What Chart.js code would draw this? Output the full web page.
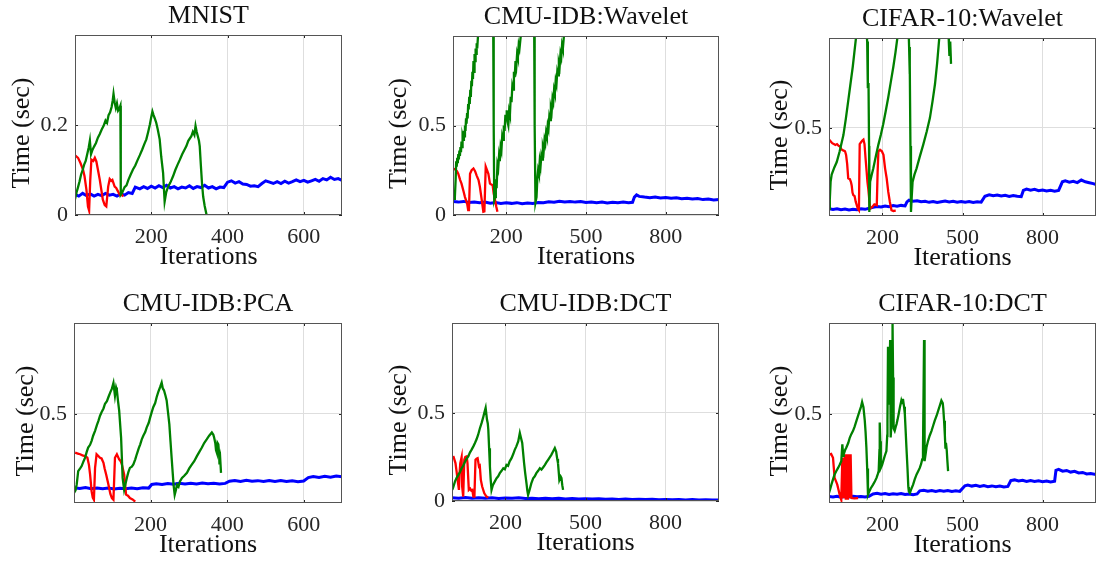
<!DOCTYPE html>
<html>
<head>
<meta charset="utf-8">
<script src="https://cdn.jsdelivr.net/npm/chart.js@4.4.1/dist/chart.umd.min.js"></script>
<style>
  html, body { margin: 0; padding: 0; background: #fff; }
  #wrap { position: relative; width: 1096px; height: 563px; overflow: hidden; }
  #wrap canvas { position: absolute; left: 0; top: 0; }
</style>
</head>
<body>
<div id="wrap"></div>
<script>
// iteration ticks
const ticks700 = [200, 400, 600];
const ticks1000 = [200, 500, 800];

// MNIST
const mnistRed = [[1,0.132],[8,0.127],[14,0.116],[21,0.101],[25,0.086],[30,0.056],[34,0.019],[37,0.010],[40,0.078],[43,0.123],[48,0.120],[52,0.127],[56,0.119],[60,0.101],[65,0.078],[69,0.056],[73,0.034],[78,0.022],[82,0.019],[87,0.063],[91,0.080],[95,0.076],[98,0.078],[104,0.063],[108,0.060],[113,0.052],[117,0.045],[121,0.048],[126,0.041]];
const mnistGreen = [[0,0.035],[4,0.05],[8,0.062],[12,0.075],[16,0.09],[20,0.10],[24,0.112],[28,0.12],[32,0.135],[36,0.15],[39,0.165],[42,0.135],[46,0.145],[50,0.152],[55,0.16],[60,0.172],[65,0.18],[70,0.19],[75,0.198],[80,0.21],[84,0.205],[88,0.222],[92,0.228],[96,0.24],[99,0.255],[101,0.269],[104,0.25],[107,0.238],[110,0.248],[113,0.232],[116,0.236],[119,0.243],[120,0.045],[124,0.05],[130,0.062],[135,0.066],[140,0.078],[146,0.09],[152,0.101],[158,0.11],[164,0.122],[170,0.133],[176,0.145],[182,0.158],[187,0.168],[192,0.185],[196,0.2],[200,0.218],[203,0.23],[206,0.222],[209,0.215],[213,0.205],[217,0.19],[222,0.168],[226,0.13],[231,0.093],[235,0.03],[239,0.05],[244,0.063],[250,0.072],[257,0.086],[263,0.1],[269,0.112],[275,0.123],[281,0.135],[287,0.145],[292,0.153],[297,0.165],[301,0.17],[305,0.175],[309,0.185],[313,0.178],[316,0.198],[319,0.185],[322,0.175],[325,0.165],[327,0.153],[330,0.11],[333,0.07],[336,0.041],[340,0.02],[345,0.0]];
const mnistBlue = [[0,0.046],[10,0.042],[20,0.048],[30,0.043],[40,0.047],[50,0.042],[60,0.046],[70,0.043],[80,0.048],[90,0.044],[100,0.046],[110,0.042],[120,0.047],[130,0.044],[140,0.05],[150,0.048],[158,0.062],[170,0.058],[180,0.063],[190,0.059],[200,0.064],[210,0.06],[220,0.065],[230,0.061],[240,0.066],[250,0.06],[260,0.063],[270,0.058],[280,0.062],[290,0.06],[300,0.065],[310,0.059],[320,0.063],[330,0.061],[340,0.066],[350,0.06],[360,0.063],[370,0.058],[380,0.062],[390,0.061],[400,0.073],[410,0.076],[420,0.071],[430,0.074],[440,0.069],[450,0.068],[460,0.064],[470,0.065],[480,0.063],[490,0.07],[500,0.076],[510,0.073],[520,0.07],[530,0.074],[540,0.07],[550,0.075],[560,0.071],[570,0.074],[580,0.078],[590,0.074],[600,0.077],[610,0.073],[620,0.076],[630,0.079],[640,0.075],[650,0.081],[660,0.078],[670,0.084],[680,0.079],[690,0.081],[700,0.077]];

// CMU-IDB, wavelet features
const cmuWavRed = [[1,0.26],[8,0.255],[15,0.245],[20,0.23],[27,0.195],[32,0.175],[40,0.13],[45,0.10],[53,0.065],[57,0.028],[60,0.03],[64,0.23],[70,0.25],[77,0.26],[83,0.245],[89,0.22],[96,0.195],[101,0.158],[108,0.084],[114,0.018],[118,0.02],[123,0.27],[128,0.25],[133,0.23],[139,0.175],[144,0.17],[149,0.167],[153,0.12],[158,0.084],[163,0.045],[167,0.018]];
const cmuWavGreen = [[1,0.12],[4,0.09],[7,0.10],[10,0.2],[12,0.3],[14,0.27],[16,0.32],[18,0.29],[20,0.34],[22,0.31],[24,0.36],[26,0.33],[28,0.38],[30,0.35],[32,0.41],[34,0.38],[36,0.44],[39,0.42],[41,0.47],[43,0.44],[45,0.5],[47,0.47],[49,0.54],[51,0.51],[53,0.57],[55,0.54],[57,0.62],[59,0.59],[61,0.66],[63,0.62],[65,0.7],[67,0.66],[69,0.75],[71,0.72],[73,0.8],[75,0.76],[77,0.86],[79,0.8],[81,0.9],[83,0.86],[85,0.93],[87,0.9],[89,0.96],[91,0.93],[94,1.0],[98,1.03],[110,1.3],[140,1.4],[151,1.1],[153,0.5],[155,0.084],[158,0.1],[161,0.2],[164,0.15],[167,0.28],[170,0.26],[173,0.33],[176,0.3],[179,0.38],[182,0.36],[185,0.44],[188,0.42],[191,0.5],[194,0.47],[197,0.56],[200,0.53],[202,0.585],[205,0.52],[208,0.5],[211,0.58],[214,0.56],[217,0.66],[220,0.63],[223,0.72],[226,0.7],[229,0.8],[232,0.77],[235,0.86],[238,0.83],[241,0.9],[244,0.88],[247,0.95],[250,0.93],[254,0.99],[258,1.03],[270,1.3],[300,1.4],[305,1.1],[307,0.5],[310,0.07],[314,0.1],[317,0.2],[320,0.25],[323,0.23],[326,0.3],[329,0.27],[332,0.33],[335,0.31],[338,0.38],[341,0.36],[344,0.42],[347,0.4],[350,0.46],[353,0.44],[356,0.5],[359,0.48],[362,0.55],[365,0.53],[368,0.6],[371,0.58],[374,0.65],[377,0.63],[380,0.7],[383,0.68],[386,0.75],[389,0.73],[392,0.8],[395,0.78],[398,0.85],[401,0.83],[404,0.9],[407,0.88],[410,0.95],[413,0.93],[417,1.0],[421,1.05]];
const cmuWavBlue = [[0,0.075],[20,0.072],[40,0.076],[60,0.07],[80,0.073],[100,0.069],[120,0.072],[140,0.066],[160,0.07],[180,0.064],[200,0.068],[220,0.065],[240,0.069],[260,0.063],[280,0.067],[300,0.064],[320,0.07],[340,0.068],[360,0.074],[380,0.071],[400,0.077],[420,0.073],[440,0.076],[460,0.072],[480,0.075],[500,0.07],[520,0.073],[540,0.069],[560,0.072],[580,0.067],[600,0.071],[620,0.068],[640,0.072],[660,0.069],[675,0.071],[682,0.1],[690,0.112],[700,0.104],[720,0.1],[740,0.097],[760,0.101],[780,0.095],[800,0.098],[820,0.094],[840,0.096],[860,0.091],[880,0.094],[900,0.089],[920,0.092],[940,0.086],[960,0.089],[980,0.084],[1000,0.087]];

// CIFAR-10, wavelet features
const cifWavRed = [[1,0.435],[6,0.425],[12,0.415],[18,0.41],[24,0.405],[30,0.41],[36,0.4],[41,0.397],[47,0.38],[53,0.375],[60,0.37],[64,0.35],[68,0.3],[72,0.22],[78,0.215],[82,0.2],[85,0.18],[88,0.14],[91,0.126],[96,0.12],[100,0.09],[104,0.07],[108,0.05],[112,0.042],[115,0.41],[120,0.42],[125,0.43],[129,0.435],[133,0.41],[137,0.33],[141,0.257],[144,0.2],[147,0.163],[151,0.1],[154,0.05],[162,0.06],[170,0.075],[179,0.07],[182,0.25],[185,0.37],[191,0.378],[198,0.37],[204,0.35],[210,0.275],[216,0.22],[222,0.144],[228,0.088],[234,0.042],[241,0.038],[250,0.04]];
const cifWavGreen = [[0,0.05],[3,0.1],[6,0.2],[10,0.24],[20,0.28],[29,0.31],[40,0.37],[54,0.46],[63,0.55],[72,0.65],[80,0.74],[89,0.84],[95,0.92],[101,1.0],[105,1.05],[140,1.05],[143,0.98],[145,0.8],[146,0.72],[148,0.75],[150,0.4],[151,0.032],[154,0.2],[160,0.24],[166,0.275],[175,0.34],[185,0.407],[194,0.46],[203,0.52],[212,0.59],[222,0.67],[232,0.76],[241,0.84],[249,0.92],[256,1.0],[260,1.05],[298,1.05],[300,0.95],[302,0.8],[303,0.85],[305,0.4],[307,0.032],[310,0.12],[313,0.2],[320,0.24],[328,0.275],[340,0.34],[353,0.407],[366,0.48],[378,0.556],[388,0.65],[397,0.744],[405,0.86],[413,1.0],[416,1.05],[447,1.05],[449,0.97],[451,0.9],[454,0.98],[457,0.856]];
const cifWavBlue = [[0,0.05],[15,0.046],[30,0.05],[45,0.045],[60,0.049],[75,0.044],[90,0.048],[105,0.045],[120,0.05],[135,0.047],[150,0.053],[165,0.058],[180,0.063],[195,0.06],[210,0.066],[225,0.062],[240,0.068],[255,0.064],[270,0.069],[285,0.066],[292,0.088],[300,0.098],[315,0.092],[330,0.095],[345,0.089],[360,0.092],[375,0.086],[390,0.09],[405,0.085],[420,0.089],[435,0.093],[450,0.088],[465,0.092],[480,0.087],[495,0.091],[510,0.086],[525,0.09],[540,0.085],[555,0.089],[570,0.087],[584,0.12],[600,0.128],[615,0.123],[630,0.127],[645,0.121],[660,0.125],[675,0.119],[690,0.124],[705,0.12],[720,0.118],[728,0.152],[740,0.16],[755,0.154],[770,0.158],[785,0.151],[800,0.155],[815,0.149],[830,0.153],[845,0.148],[860,0.152],[874,0.2],[885,0.205],[900,0.198],[915,0.203],[930,0.196],[945,0.21],[960,0.2],[975,0.195],[990,0.19],[1000,0.185]];

// CMU-IDB, PCA features
const cmuPcaRed = [[3,0.287],[10,0.282],[16,0.278],[22,0.272],[29,0.268],[35,0.259],[39,0.22],[42,0.167],[46,0.074],[49,0.04],[52,0.028],[55,0.203],[59,0.278],[63,0.27],[68,0.259],[72,0.255],[77,0.231],[80,0.2],[84,0.167],[90,0.111],[95,0.06],[99,0.037],[103,0.028],[107,0.259],[112,0.278],[118,0.25],[122,0.24],[125,0.222],[131,0.167],[134,0.1],[136,0.056],[141,0.05],[146,0.037],[153,0.03],[160,0.018]];
const cmuPcaGreen = [[0,0.065],[4,0.08],[7,0.111],[11,0.185],[16,0.2],[20,0.213],[25,0.24],[29,0.259],[33,0.29],[37,0.315],[42,0.33],[46,0.352],[50,0.38],[55,0.407],[60,0.44],[64,0.463],[68,0.49],[72,0.509],[77,0.53],[81,0.556],[86,0.57],[90,0.593],[95,0.62],[99,0.639],[103,0.67],[107,0.6],[110,0.645],[112,0.63],[115,0.57],[118,0.518],[123,0.37],[127,0.148],[131,0.083],[135,0.12],[138,0.148],[142,0.18],[146,0.203],[151,0.21],[155,0.222],[160,0.25],[164,0.278],[169,0.31],[173,0.333],[177,0.36],[181,0.38],[186,0.4],[190,0.426],[195,0.45],[199,0.481],[203,0.51],[207,0.537],[212,0.56],[216,0.593],[220,0.62],[225,0.648],[229,0.672],[232,0.64],[235,0.63],[239,0.6],[242,0.574],[246,0.5],[249,0.444],[252,0.35],[255,0.259],[258,0.17],[260,0.111],[263,0.055],[266,0.08],[269,0.111],[273,0.1],[277,0.13],[282,0.148],[288,0.16],[295,0.176],[301,0.2],[308,0.222],[314,0.24],[321,0.268],[327,0.29],[334,0.315],[340,0.34],[347,0.361],[353,0.38],[360,0.398],[364,0.385],[366,0.37],[369,0.34],[371,0.3],[373,0.287],[375,0.34],[377,0.333],[379,0.28],[380,0.222],[382,0.25],[384,0.176]];
const cmuPcaBlue = [[0,0.094],[15,0.09],[30,0.095],[45,0.089],[60,0.093],[75,0.088],[90,0.092],[105,0.087],[120,0.091],[135,0.088],[150,0.093],[165,0.089],[180,0.094],[195,0.092],[203,0.112],[215,0.116],[230,0.112],[245,0.117],[260,0.113],[275,0.118],[290,0.114],[305,0.119],[320,0.115],[335,0.12],[350,0.116],[365,0.119],[380,0.114],[395,0.118],[406,0.13],[420,0.134],[435,0.129],[450,0.135],[465,0.13],[480,0.133],[495,0.128],[510,0.134],[525,0.129],[540,0.133],[555,0.128],[570,0.132],[585,0.127],[600,0.131],[612,0.15],[625,0.156],[640,0.151],[655,0.157],[670,0.152],[685,0.158],[700,0.155]];

// CMU-IDB, DCT features
const cmuDctRed = [[1,0.249],[6,0.25],[13,0.215],[17,0.17],[21,0.12],[26,0.063],[28,0.15],[31,0.215],[36,0.249],[38,0.082],[42,0.025],[46,0.234],[50,0.25],[55,0.253],[58,0.215],[63,0.063],[68,0.07],[72,0.06],[76,0.063],[80,0.025],[84,0.025],[88,0.234],[92,0.24],[96,0.243],[101,0.196],[104,0.2],[108,0.12],[113,0.082],[121,0.044],[129,0.025],[136,0.021]];
const cmuDctGreen = [[1,0.063],[5,0.08],[11,0.11],[17,0.13],[24,0.148],[30,0.165],[36,0.186],[42,0.2],[49,0.224],[55,0.24],[61,0.253],[67,0.275],[73,0.29],[80,0.31],[86,0.329],[92,0.35],[98,0.376],[104,0.41],[111,0.443],[116,0.47],[121,0.5],[126,0.528],[131,0.462],[134,0.44],[136,0.405],[139,0.3],[142,0.196],[145,0.12],[148,0.063],[153,0.09],[160,0.11],[167,0.129],[173,0.14],[179,0.158],[185,0.17],[192,0.186],[198,0.18],[204,0.205],[210,0.2],[216,0.225],[223,0.243],[229,0.265],[235,0.29],[241,0.31],[248,0.338],[254,0.386],[258,0.36],[263,0.329],[266,0.28],[270,0.215],[274,0.16],[279,0.1],[282,0.06],[285,0.034],[290,0.06],[297,0.1],[304,0.129],[310,0.14],[316,0.158],[322,0.17],[329,0.186],[335,0.178],[341,0.19],[348,0.205],[354,0.22],[360,0.234],[366,0.248],[372,0.262],[378,0.28],[385,0.3],[390,0.28],[394,0.24],[397,0.215],[400,0.16],[402,0.12],[404,0.12],[407,0.139],[410,0.13],[413,0.09],[416,0.063]];
const cmuDctBlue = [[0,0.018],[25,0.016],[50,0.02],[75,0.015],[100,0.019],[125,0.016],[150,0.018],[175,0.014],[200,0.017],[225,0.015],[250,0.018],[275,0.014],[300,0.016],[325,0.013],[350,0.016],[375,0.013],[400,0.015],[425,0.012],[450,0.014],[475,0.011],[500,0.013],[525,0.011],[550,0.013],[575,0.01],[600,0.012],[625,0.009],[650,0.011],[675,0.009],[700,0.01],[725,0.008],[750,0.01],[775,0.007],[800,0.009],[825,0.007],[850,0.008],[875,0.006],[900,0.008],[925,0.006],[950,0.007],[975,0.005],[1000,0.006]];

// CIFAR-10, DCT features
const cifDctRed = [[3,0.278],[8,0.28],[15,0.259],[21,0.148],[26,0.13],[31,0.111],[36,0.08],[40,0.055],[46,0.028],[50,0.259],[55,0.037],[59,0.278],[63,0.028],[67,0.278],[71,0.028],[75,0.278],[78,0.037],[81,0.278],[84,0.037],[95,0.035],[109,0.037]];
const cifDctGreen = [[0,0.065],[4,0.085],[9,0.111],[15,0.14],[21,0.167],[27,0.185],[34,0.203],[40,0.22],[46,0.24],[50,0.333],[53,0.27],[55,0.278],[60,0.3],[65,0.315],[72,0.34],[78,0.37],[84,0.39],[90,0.407],[96,0.43],[103,0.463],[109,0.49],[115,0.518],[120,0.54],[124,0.565],[129,0.537],[134,0.463],[137,0.4],[140,0.315],[143,0.2],[146,0.055],[150,0.07],[156,0.09],[165,0.111],[172,0.13],[178,0.148],[183,0.17],[186,0.185],[189,0.3],[190,0.453],[192,0.35],[194,0.203],[199,0.22],[203,0.24],[209,0.27],[215,0.296],[218,0.38],[219,0.463],[221,0.87],[223,0.55],[225,0.648],[227,0.75],[229,0.907],[231,0.37],[234,0.45],[236,0.6],[238,1.0],[240,0.7],[241,0.444],[243,0.42],[246,0.407],[250,0.43],[253,0.444],[257,0.47],[261,0.5],[266,0.54],[271,0.574],[274,0.56],[277,0.583],[281,0.54],[284,0.5],[287,0.41],[290,0.315],[294,0.2],[297,0.1],[299,0.074],[303,0.065],[309,0.09],[315,0.111],[321,0.14],[328,0.167],[334,0.185],[340,0.203],[345,0.225],[349,0.25],[352,0.3],[354,0.6],[356,0.907],[357,0.6],[359,0.24],[362,0.28],[365,0.315],[371,0.352],[377,0.38],[384,0.407],[390,0.435],[396,0.463],[403,0.49],[409,0.518],[415,0.545],[421,0.574],[426,0.56],[428,0.53],[431,0.463],[434,0.38],[436,0.315],[438,0.34],[441,0.3],[443,0.25],[446,0.185]];
const cifDctBlue = [[0,0.046],[15,0.043],[30,0.047],[45,0.042],[60,0.046],[75,0.043],[90,0.047],[105,0.044],[120,0.046],[135,0.043],[150,0.047],[165,0.06],[180,0.063],[195,0.058],[210,0.062],[225,0.057],[240,0.061],[255,0.058],[270,0.062],[285,0.057],[300,0.06],[315,0.056],[330,0.06],[340,0.077],[355,0.08],[370,0.075],[385,0.079],[400,0.074],[415,0.078],[430,0.075],[445,0.079],[460,0.074],[475,0.077],[490,0.074],[509,0.105],[520,0.109],[535,0.103],[550,0.107],[565,0.101],[580,0.106],[595,0.1],[610,0.104],[625,0.099],[640,0.103],[655,0.098],[670,0.101],[681,0.133],[695,0.137],[710,0.131],[725,0.135],[740,0.129],[755,0.133],[770,0.128],[785,0.132],[800,0.127],[815,0.131],[830,0.126],[845,0.13],[850,0.19],[860,0.195],[875,0.185],[890,0.189],[905,0.18],[920,0.184],[935,0.175],[950,0.178],[965,0.17],[980,0.172],[1000,0.167]];

// subplot layout: plot box [left, top, right, bottom] in page pixels
const panels = [
  { title: 'MNIST', box: [75, 35, 342, 215], xMax: 700, xTicks: ticks700, yMin: 0, yMax: 0.4, yTicks: [0, 0.2], yGap: 53,
    red: mnistRed, green: mnistGreen, blue: mnistBlue },
  { title: 'CMU-IDB:Wavelet', box: [453, 36, 719, 215], xMax: 1000, xTicks: ticks1000, yMin: 0, yMax: 1, yTicks: [0, 0.5], yGap: 54,
    red: cmuWavRed, green: cmuWavGreen, blue: cmuWavBlue },
  { title: 'CIFAR-10:Wavelet', box: [829, 38, 1096, 216], xMax: 1000, xTicks: ticks1000, yMin: 0.01, yMax: 1, yTicks: [0.5], yGap: 48.5,
    red: cifWavRed, green: cifWavGreen, blue: cifWavBlue },
  { title: 'CMU-IDB:PCA', box: [74, 323, 342, 503], xMax: 700, xTicks: ticks700, yMin: 0.01, yMax: 1, yTicks: [0.5], yGap: 48,
    red: cmuPcaRed, green: cmuPcaGreen, blue: cmuPcaBlue },
  { title: 'CMU-IDB:DCT', box: [452, 323, 719, 501], xMax: 1000, xTicks: ticks1000, yMin: 0, yMax: 1.01, yTicks: [0, 0.5], yGap: 53,
    red: cmuDctRed, green: cmuDctGreen, blue: cmuDctBlue },
  { title: 'CIFAR-10:DCT', box: [829, 323, 1096, 503], xMax: 1000, xTicks: ticks1000, yMin: 0.01, yMax: 1, yTicks: [0.5], yGap: 48.5,
    red: cifDctRed, green: cifDctGreen, blue: cifDctBlue }
];

const W = 1096, H = 563;
const Y_AXIS_W = 40, X_AXIS_H = 40;
const FONT = '"Liberation Serif", "Times New Roman", serif';
const INK = '#262626';

Chart.defaults.font.family = FONT;
Chart.defaults.color = INK;

// frame, inward tick marks, title and axis labels
const axesDecor = {
  id: 'axesDecor',
  afterDraw(chart, args, opts) {
    const { ctx, chartArea: a } = chart;
    const xs = chart.scales.x, ys = chart.scales.y;
    ctx.save();
    ctx.strokeStyle = INK;
    ctx.lineWidth = 1;
    ctx.beginPath();
    xs.ticks.forEach(t => {
      const px = Math.round(xs.getPixelForValue(t.value)) + 0.5;
      ctx.moveTo(px, a.bottom); ctx.lineTo(px, a.bottom - 3);
      ctx.moveTo(px, a.top); ctx.lineTo(px, a.top + 3);
    });
    ys.ticks.forEach(t => {
      const py = Math.round(ys.getPixelForValue(t.value)) + 0.5;
      ctx.moveTo(a.left, py); ctx.lineTo(a.left + 3, py);
      ctx.moveTo(a.right, py); ctx.lineTo(a.right - 3, py);
    });
    ctx.stroke();
    ctx.strokeStyle = '#555';
    ctx.strokeRect(a.left + 0.5, a.top + 0.5, a.right - a.left - 1, a.bottom - a.top - 1);

    ctx.fillStyle = '#111';
    ctx.font = '26px ' + FONT;
    ctx.textAlign = 'center';
    ctx.textBaseline = 'alphabetic';
    const cx = (a.left + a.right) / 2;
    ctx.fillText(opts.title, cx, a.top - 12);
    ctx.fillText('Iterations', cx, a.bottom + 49);
    ctx.translate(a.left - opts.yGap, (a.top + a.bottom) / 2 + 8);
    ctx.rotate(-Math.PI / 2);
    ctx.textBaseline = 'middle';
    ctx.fillText('Time (sec)', 0, 0);
    ctx.restore();
  }
};

function toPoints(pairs) {
  return pairs.map(p => ({ x: p[0], y: p[1] }));
}

function series(pairs, color, width) {
  return {
    data: toPoints(pairs),
    borderColor: color,
    borderWidth: width,
    pointRadius: 0,
    tension: 0,
    clip: 0
  };
}

function drawPanel(p) {
  const canvas = document.createElement('canvas');
  canvas.width = W;
  canvas.height = H;
  document.getElementById('wrap').appendChild(canvas);

  const [left, top, right, bottom] = p.box;
  return new Chart(canvas.getContext('2d'), {
    type: 'line',
    data: {
      datasets: [
        series(p.green, '#008000', 2.3),
        series(p.red, '#ff0000', 2.3),
        series(p.blue, '#0000ff', 3)
      ]
    },
    options: {
      responsive: false,
      animation: false,
      devicePixelRatio: 1,
      layout: {
        padding: { left: left - Y_AXIS_W, top: top, right: W - right, bottom: H - bottom - X_AXIS_H }
      },
      plugins: {
        legend: { display: false },
        tooltip: { enabled: false },
        axesDecor: { title: p.title, yGap: p.yGap }
      },
      scales: {
        x: {
          type: 'linear',
          min: 0,
          max: p.xMax,
          afterBuildTicks: s => { s.ticks = p.xTicks.map(v => ({ value: v })); },
          afterFit: s => { s.height = X_AXIS_H; },
          ticks: { font: { size: 22 }, color: INK, padding: 9, maxRotation: 0 },
          grid: { color: '#dedede', drawTicks: false },
          border: { display: false }
        },
        y: {
          type: 'linear',
          min: p.yMin,
          max: p.yMax,
          afterBuildTicks: s => { s.ticks = p.yTicks.map(v => ({ value: v })); },
          afterFit: s => { s.width = Y_AXIS_W; },
          ticks: { font: { size: 22 }, color: INK, padding: 7 },
          grid: { color: '#dedede', drawTicks: false },
          border: { display: false }
        }
      }
    },
    plugins: [axesDecor]
  });
}

panels.forEach(drawPanel);
</script>
</body>
</html>
